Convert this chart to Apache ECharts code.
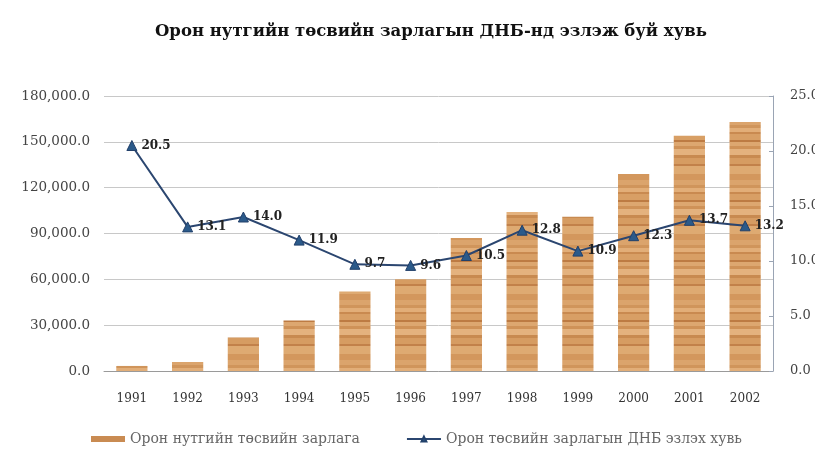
<!DOCTYPE html>
<html>
<head>
<meta charset="utf-8">
<script src="https://cdn.jsdelivr.net/npm/echarts@6/dist/echarts.min.js"></script>
<style>
  html, body { margin: 0; padding: 0; background: #ffffff; }
  #chart { width: 815px; height: 457px; }
</style>
</head>
<body>
<div id="chart"></div>
<script>
// Years on the category axis
const years = ['1991', '1992', '1993', '1994', '1995', '1996', '1997', '1998', '1999', '2000', '2001', '2002'];
// Local budget expenditure (left axis)
const expenditure = [3300, 5900, 22000, 33000, 52000, 60000, 87000, 104000, 101000, 129000, 154000, 163000];
// Share of GDP, percent (right axis)
const shareOfGdp = [20.5, 13.1, 14.0, 11.9, 9.7, 9.6, 10.5, 12.8, 10.9, 12.3, 13.7, 13.2];

const titleText = 'Орон нутгийн төсвийн зарлагын ДНБ-нд эзлэж буй хувь';
const barName = 'Орон нутгийн төсвийн зарлага';
const lineName = 'Орон төсвийн зарлагын ДНБ эзлэх хувь';

// Wood-grain fill for the bars: horizontal stripes in varying browns
function woodPattern() {
  const c = document.createElement('canvas');
  c.width = 4; c.height = 60;
  const g = c.getContext('2d');
  const stripes = ['#dba46c', '#d0955b', '#e2ae78', '#c98a50', '#d89f65', '#bd7b43', '#dda770',
                   '#cf9258', '#e4b27e', '#c88a50', '#d69c62', '#c2814a', '#deaa72', '#d3975d'];
  const heights = [5, 3, 4, 2, 6, 2, 4, 3, 6, 3, 6, 2, 8, 6];
  let y = 0;
  stripes.forEach((col, i) => {
    g.fillStyle = col;
    g.fillRect(0, y, 4, heights[i]);
    y += heights[i];
  });
  return c;
}

const serif = '"DejaVu Serif", "Liberation Serif", serif';
const chart = echarts.init(document.getElementById('chart'));

chart.setOption({
  backgroundColor: '#ffffff',
  animation: false,
  textStyle: { fontFamily: serif },
  title: {
    text: titleText,
    left: 150,
    top: 18,
    textStyle: { fontFamily: serif, fontSize: 16.5, fontWeight: 'bold', color: '#111' }
  },
  legend: {
    bottom: 6,
    left: 86,
    itemGap: 46,
    itemWidth: 34,
    itemHeight: 6,
    textStyle: { fontFamily: serif, fontSize: 14, color: '#666' },
    data: [
      { name: barName, icon: 'rect', itemStyle: { color: '#c98b52' } },
      { name: lineName }
    ]
  },
  grid: { left: 104, right: 42, top: 96, bottom: 86, outerBoundsMode: 'none', containLabel: false },
  xAxis: {
    type: 'category',
    data: years,
    axisLine: { lineStyle: { color: '#9a9a9a' } },
    axisTick: { show: false },
    axisLabel: { color: '#333', fontSize: 12, margin: 22, fontFamily: serif }
  },
  yAxis: [
    {
      type: 'value',
      min: 0, max: 180000, interval: 30000,
      axisLine: { show: false },
      axisTick: { show: false },
      splitLine: { lineStyle: { color: '#c8c8c8' } },
      axisLabel: {
        color: '#444', fontSize: 13.5, margin: 14, fontFamily: serif,
        formatter: v => v.toLocaleString('en-US', { minimumFractionDigits: 1, maximumFractionDigits: 1 })
      }
    },
    {
      type: 'value',
      min: 0, max: 25, interval: 5,
      position: 'right',
      axisLine: { show: true, lineStyle: { color: '#9aa4b4' } },
      axisTick: { show: true, inside: true, length: 4, lineStyle: { color: '#9aa4b4' } },
      splitLine: { show: false },
      axisLabel: {
        color: '#444', fontSize: 13, margin: 17, fontFamily: serif,
        formatter: v => v.toFixed(1)
      }
    }
  ],
  series: [
    {
      name: barName,
      type: 'bar',
      data: expenditure,
      barWidth: '56%',
      itemStyle: { color: { image: woodPattern(), repeat: 'repeat' } }
    },
    {
      name: lineName,
      type: 'line',
      yAxisIndex: 1,
      data: shareOfGdp,
      symbol: 'triangle',
      symbolSize: 10,
      lineStyle: { color: '#2b4670', width: 2 },
      itemStyle: { color: '#2b5a8a', borderColor: '#22406a', borderWidth: 1 },
      label: {
        show: true,
        position: 'right',
        distance: 4,
        fontFamily: serif,
        fontWeight: 'bold',
        fontSize: 12,
        color: '#222',
        formatter: p => p.value.toFixed(1)
      },
      z: 5
    }
  ]
});
</script>
</body>
</html>
